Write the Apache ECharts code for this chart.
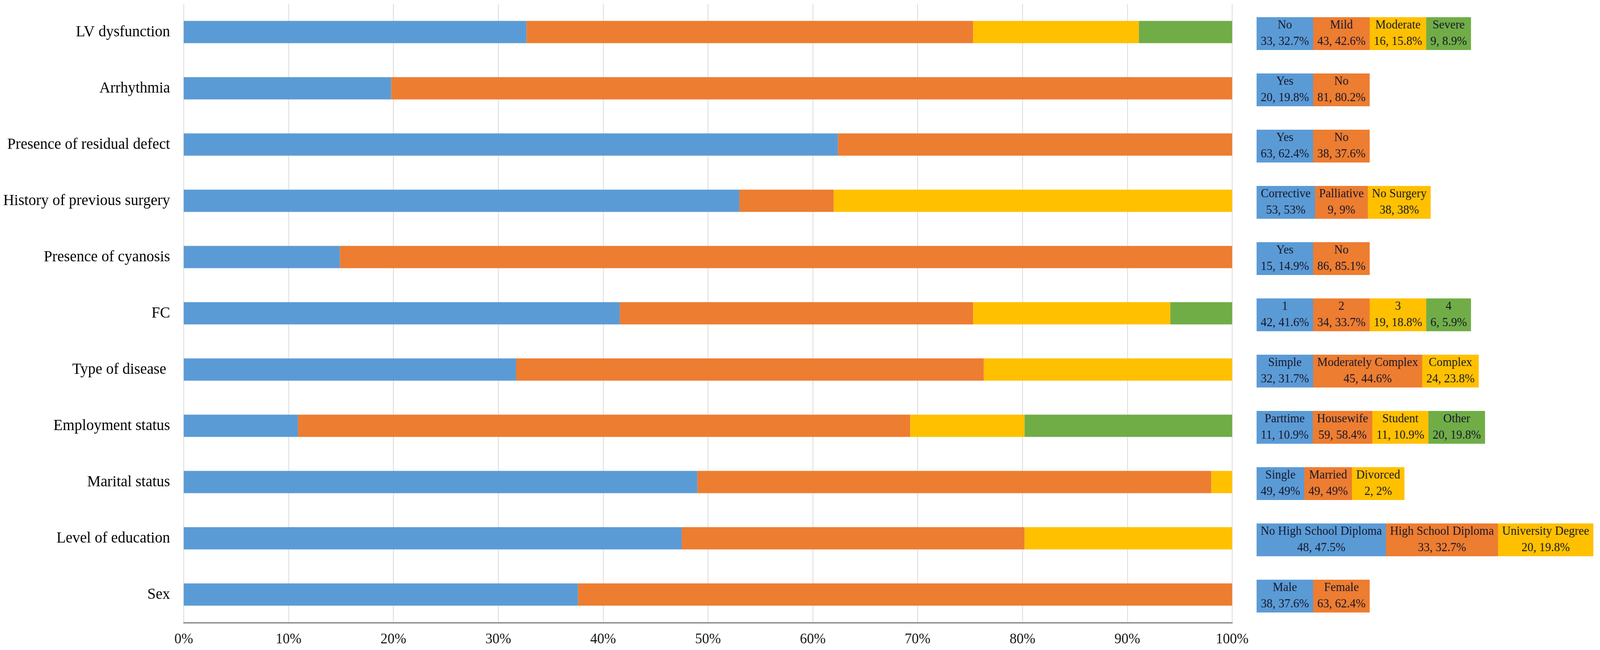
<!DOCTYPE html>
<html><head><meta charset="utf-8">
<script src="https://cdn.jsdelivr.net/npm/echarts@6/dist/echarts.min.js"></script>
<style>html,body{margin:0;padding:0;background:#fff;overflow:hidden}#c{width:4328px;height:1664px;transform-origin:0 0}</style>
</head><body><div id="c"></div>
<script>
const categories = ['LV dysfunction','Arrhythmia','Presence of residual defect','History of previous surgery','Presence of cyanosis','FC','Type of disease ','Employment status','Marital status','Level of education','Sex'];
const groupNames = [
  ['No','Mild','Moderate','Severe'],
  ['Yes','No'],
  ['Yes','No'],
  ['Corrective','Palliative','No Surgery'],
  ['Yes','No'],
  ['1','2','3','4'],
  ['Simple','Moderately Complex','Complex'],
  ['Parttime','Housewife','Student','Other'],
  ['Single','Married','Divorced'],
  ['No High School Diploma','High School Diploma','University Degree'],
  ['Male','Female']
];
const groupCounts = [[33,43,16,9],[20,81],[63,38],[53,9,38],[15,86],[42,34,19,6],[32,45,24],[11,59,11,20],[49,49,2],[48,33,20],[38,63]];
const groupPercents = [[32.7,42.6,15.8,8.9],[19.8,80.2],[62.4,37.6],[53,9,38],[14.9,85.1],[41.6,33.7,18.8,5.9],[31.7,44.6,23.8],[10.9,58.4,10.9,19.8],[49,49,2],[47.5,32.7,19.8],[37.6,62.4]];
const segmentColors = ['#5B9BD5','#ED7D31','#FFC000','#70AD47'];
const segmentSeriesNames = ['Group 1','Group 2','Group 3','Group 4'];

// fit the 4328px-wide design into the actual viewport width
const el = document.getElementById('c');
const vw = window.innerWidth || 4328;
if (vw < 4328) el.style.transform = 'scale(' + (vw / 4328) + ',1)';

const FONT = '"Liberation Serif","Times New Roman",serif';
const cellFont = 32;
const ctx = document.createElement('canvas').getContext('2d');
ctx.font = cellFont + 'px ' + FONT;
function tw(s){ return ctx.measureText(s).width; }

const barSeries = segmentSeriesNames.map((nm, s) => ({
  name: nm,
  type: 'bar',
  stack: 'total',
  barWidth: 57,
  itemStyle: { color: segmentColors[s], opacity: 1 },
  data: groupPercents.map(r => (r[s] === undefined ? 0 : r[s]))
}));

const tableData = categories.map((c, r) => {
  const names = groupNames[r];
  const vals = groupCounts[r].map((n, i) => n + ', ' + groupPercents[r][i] + '%');
  const rich = {};
  let l1 = '', l2 = '';
  names.forEach((n, i) => {
    const w = Math.ceil(Math.max(tw(n), tw(vals[i]))) + 22;
    const base = { width: w, height: 42, lineHeight: 42, align: 'center', backgroundColor: segmentColors[i], color: '#15152a', fontSize: cellFont, fontFamily: FONT, padding: 0, opacity: 1 };
    rich['c' + i + 'n'] = Object.assign({}, base);
    rich['c' + i + 'v'] = Object.assign({}, base);
    l1 += '{c' + i + 'n|' + n + '}';
    l2 += '{c' + i + 'v|' + vals[i] + '}';
  });
  return { value: [100, r], label: { formatter: l1 + '\n' + l2, rich: rich } };
});

const chart = echarts.init(el, null, { renderer: 'canvas', width: 4328, height: 1664 });
chart.setOption({
  animation: false,
  backgroundColor: '#fff',
  grid: { left: 497, right: 995, top: 10, bottom: 70, containLabel: false },
  xAxis: {
    type: 'value', min: 0, max: 100, interval: 10,
    axisLine: { show: true, lineStyle: { color: '#7f7f7f', width: 3 } },
    axisTick: { show: false },
    splitLine: { show: true, lineStyle: { color: '#d9d9d9', width: 2 } },
    axisLabel: { formatter: '{value}%', fontSize: 38, color: '#111', fontFamily: FONT, margin: 24 }
  },
  yAxis: {
    type: 'category', inverse: true, data: categories,
    axisLine: { show: false }, axisTick: { show: false },
    axisLabel: { fontSize: 41, color: '#000', fontFamily: FONT, margin: 37 }
  },
  series: barSeries.concat([{
    type: 'scatter',
    symbolSize: 0,
    clip: false,
    silent: true,
    z: 10,
    itemStyle: { opacity: 1 },
    label: { show: true, position: 'right', distance: 66, offset: [0, 4], opacity: 1 },
    data: tableData
  }])
});
</script></body></html>
